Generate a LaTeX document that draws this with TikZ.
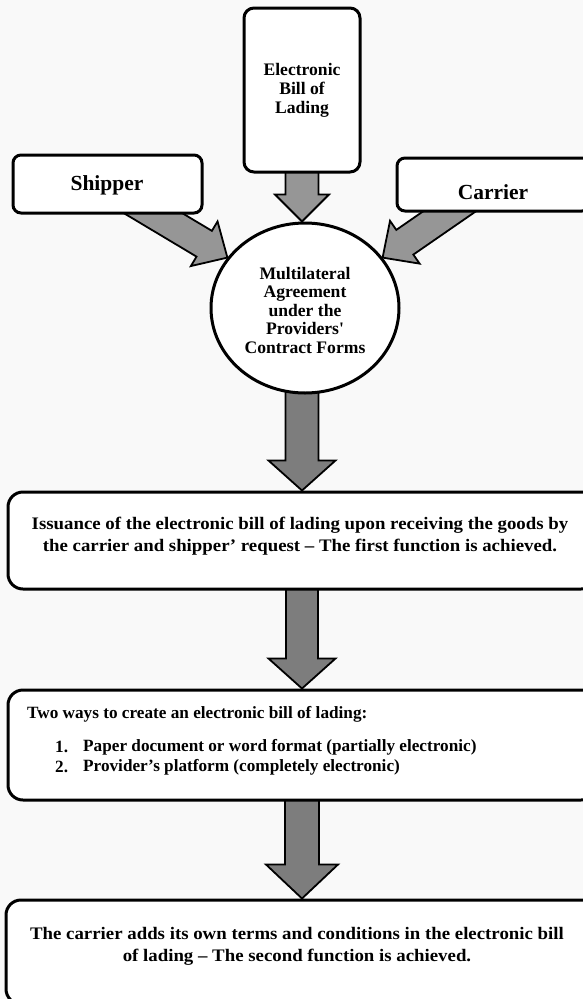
\documentclass[tikz,border=0pt]{standalone}
\usepackage{fontspec}
\setmainfont{Liberation Serif}
\newfontfamily\widefont{Liberation Serif}[FakeStretch=1.07]
\usetikzlibrary{calc,shapes.geometric,backgrounds}
\definecolor{bgc}{RGB}{249,249,249}
\definecolor{arrA}{RGB}{150,150,150}
\definecolor{arrB}{RGB}{125,125,125}
% #1 start, #2 tip, #3 shaft half width, #4 head half width, #5 head length, #6 pull-back of start, #7 style
\newcommand\blockarr[7]{%
  \coordinate (ba-s) at ($(#1)!-#6!(#2)$);
  \coordinate (ba-e) at (#2);
  \coordinate (ba-h) at ($(ba-e)!#5!(ba-s)$);
  \draw[#7] ($(ba-s)!#3!90:(ba-e)$) -- ($(ba-h)!#3!90:(ba-e)$) -- ($(ba-h)!#4!90:(ba-e)$)
    -- (ba-e) -- ($(ba-h)!#4!-90:(ba-e)$) -- ($(ba-h)!#3!-90:(ba-e)$) -- ($(ba-s)!#3!-90:(ba-e)$) -- cycle;
}
\tikzset{
  boxst/.style={draw=black, line width=3pt, fill=white, rounded corners=15pt, inner sep=0pt},
  smallbox/.style={boxst, rounded corners=8pt},
  txtbig/.style={inner sep=0pt, font=\bfseries\fontsize{21.5}{24}\selectfont},
  txtmid/.style={inner sep=0pt, align=center, font=\widefont\bfseries\fontsize{17.6}{22}\selectfont},
  txtcirc/.style={inner sep=0pt, align=center, font=\bfseries\fontsize{17.6}{18.5}\selectfont},
  txtlist/.style={inner sep=0pt, anchor=west, font=\bfseries\fontsize{17.2}{20}\selectfont},
  arrowA/.style={draw=black, line width=1.8pt, fill=arrA, line join=miter},
  arrowB/.style={draw=black, line width=1.8pt, fill=arrB, line join=miter}
}
\begin{document}
\begin{tikzpicture}[x=1pt, y=-1pt]
  \clip (0,0) rectangle (583,999);

  % top row
  \node[boxst, rounded corners=10pt, minimum width=116pt, minimum height=164pt, align=center,
        font=\bfseries\fontsize{17.6}{19}\selectfont] (elec) at (302,90) {Electronic\\Bill of\\Lading};
  \node[smallbox, minimum width=189pt, minimum height=58pt] (ship) at (107.5,184) {};
  \node[txtbig] (shiptxt) at (107,185) {Shipper};
  \node[smallbox, minimum width=193pt, minimum height=53pt] (carr) at (493.5,184.5) {};
  \node[txtbig] (carrtxt) at (493,192) {Carrier};

  % circle
  \node[ellipse, draw=black, line width=3pt, fill=white, minimum width=188pt, minimum height=170pt,
        inner sep=0pt] (circ) at (305,308) {};
  \node[txtcirc] (circtxt) at (305,310) {Multilateral\\Agreement\\under the\\Providers{\addfontfeature{Ligatures=TeXOff}'}\\Contract Forms};

  % box 1
  \node[boxst, minimum width=588pt, minimum height=97pt] (b1) at (302,540.5) {};
  \node[txtmid] (t1) at (300,536) {Issuance of the electronic bill of lading upon receiving the goods by\\the carrier and shipper’ request – The first function is achieved.};

  % box 2
  \node[boxst, minimum width=588pt, minimum height=110pt] (b2) at (302,745) {};
  \node[txtlist] (t2a) at (27,714) {Two ways to create an electronic bill of lading:};
  \node[txtlist] (t2n1) at (55,747) {1.};
  \node[txtlist] (t2i1) at (83,747) {Paper document or word format (partially electronic)};
  \node[txtlist] (t2n2) at (55,767) {2.};
  \node[txtlist] (t2i2) at (83,767) {Provider’s platform (completely electronic)};

  % box 3
  \node[boxst, minimum width=592pt, minimum height=104pt] (b3) at (302,952) {};
  \node[txtmid] (t3) at (297,946) {The carrier adds its own terms and conditions in the electronic bill\\of lading – The second function is achieved.};

  % connector anchors
  \coordinate (shipout) at ($(ship.south west)!0.749!(ship.south east)$);
  \coordinate (carrout) at ($(carr.south west)!0.267!(carr.south east)$);
  \coordinate (topin) at (elec.south |- circ.north);
  \coordinate (circout) at (circ.south -| b1.north);

  \begin{pgfonlayer}{background}
    \fill[bgc] (0,0) rectangle (583,999);
    \blockarr{elec.south}{topin}{16.5pt}{27pt}{27pt}{6pt}{arrowA}
    \blockarr{shipout}{circ.147}{15pt}{26pt}{27pt}{30pt}{arrowA}
    \blockarr{carrout}{circ.33}{15pt}{26pt}{27pt}{30pt}{arrowA}
    \blockarr{circout}{b1.north}{16.5pt}{33.5pt}{30pt}{8pt}{arrowB}
    \blockarr{b1.south}{b2.north}{16pt}{33.5pt}{30pt}{6pt}{arrowB}
    \blockarr{b2.south}{b3.north}{17pt}{36pt}{34pt}{6pt}{arrowB}
  \end{pgfonlayer}
\end{tikzpicture}
\end{document}
